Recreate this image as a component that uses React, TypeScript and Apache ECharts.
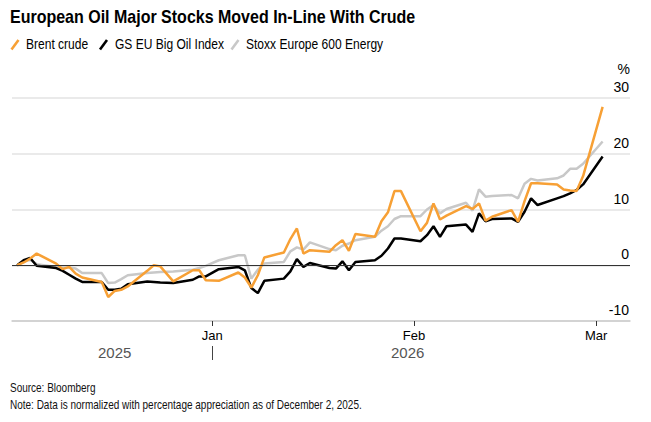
import React, { useEffect, useRef } from "react";
import * as echarts from "echarts";

const dates = [
  "2025-12-02","2025-12-03","2025-12-04","2025-12-05","2025-12-08","2025-12-09","2025-12-10","2025-12-11","2025-12-12",
  "2025-12-15","2025-12-16","2025-12-17","2025-12-18","2025-12-19","2025-12-22","2025-12-23","2025-12-24","2025-12-26",
  "2025-12-29","2025-12-30","2025-12-31",
  "2026-01-02","2026-01-05","2026-01-06","2026-01-07","2026-01-08","2026-01-09","2026-01-12","2026-01-13","2026-01-14",
  "2026-01-15","2026-01-16","2026-01-19","2026-01-20","2026-01-21","2026-01-22","2026-01-23","2026-01-26","2026-01-27",
  "2026-01-28","2026-01-29","2026-01-30",
  "2026-02-02","2026-02-03","2026-02-04","2026-02-05","2026-02-06","2026-02-09","2026-02-10","2026-02-11","2026-02-12",
  "2026-02-13","2026-02-16","2026-02-17","2026-02-18","2026-02-19","2026-02-20","2026-02-23","2026-02-24","2026-02-25",
  "2026-02-26","2026-02-27",
  "2026-03-02",
];

const brent = [
  0, 0.5, 1.2, 2.1, 0.3, -0.7, -0.3, -1.5, -2.2, -3.0, -5.7, -4.6, -4.4, -3.8, -1.0, 0.0, -0.2, -2.9, -0.9, -0.9, -2.7,
  -2.8, -1.3, -2.2, -4.0, -1.8, 1.4, 2.3, 4.7, 6.6, 2.1, 2.7, 2.4, 3.6, 4.5, 2.6, 5.6, 5.1, 7.9, 9.5, 13.3, 13.3,
  6.1, 7.6, 11.1, 8.2, 8.9, 10.6, 10.1, 11.1, 8.0, 8.7, 9.9, 7.8, 11.5, 14.7, 14.7, 14.5, 13.6, 13.4, 13.3, 16.0,
  28.4,
];

const gsBigOil = [
  0, 0.9, 1.3, -0.1, -0.5, -1.0, -1.7, -2.4, -3.0, -3.0, -4.4, -4.4, -4.2, -3.4, -2.9, -3.0, -3.1, -3.2, -2.6, -2.0, -2.0,
  -0.7, -0.3, -0.9, -4.1, -5.0, -2.8, -2.4, -1.1, 1.1, -0.3, 0.4, -0.5, -0.6, 0.7, -0.9, 0.6, 0.9, 1.7, 3.0, 4.8, 4.8,
  4.3, 5.4, 7.0, 5.1, 7.0, 7.3, 6.0, 9.3, 7.9, 8.3, 8.4, 7.8, 9.6, 12.0, 10.8, 12.0, 12.4, 12.9, 13.5, 14.5,
  19.5,
];

const stoxxEnergy = [
  0, 0.6, 1.0, 0.2, -0.3, -0.4, -0.4, -0.6, -1.4, -1.4, -3.2, -3.1, -2.5, -1.8, -1.4, -1.3, -1.2, -1.1, -0.8, -0.5, -0.1,
  0.9, 1.8, 1.8, -2.4, -0.8, 0.3, 0.6, 2.5, 3.2, 2.8, 4.1, 2.9, 2.7, 3.5, 3.9, 4.5, 5.1, 6.2, 7.0, 8.3, 8.8,
  8.8, 10.0, 10.8, 9.3, 10.1, 11.2, 9.8, 13.6, 12.3, 12.4, 12.6, 12.0, 14.6, 15.5, 15.2, 15.6, 16.1, 17.3, 17.3, 18.2,
  22.2,
];

const seriesNames = ["Brent crude", "GS EU Big Oil Index", "Stoxx Europe 600 Energy"];
const yTicks = [-10, 0, 10, 20, 30];
const monthTickDates = ["2026-01-01", "2026-02-01", "2026-03-01"];
const monthLabels = ["Jan", "Feb", "Mar"];
const yearLabels = ["2025", "2026"];

const REG = "'Liberation Sans', Arial, sans-serif";

function ts(s: string) {
  const [y, m, d] = s.split("-").map(Number);
  return Date.UTC(y, m - 1, d);
}

export default function App() {
  const ref = useRef<HTMLDivElement>(null);
  useEffect(() => {
    if (!ref.current) return;
    const chart = echarts.init(ref.current, undefined, { renderer: "svg" });
    const toPairs = (vals: number[]) => dates.map((d, i) => [ts(d), vals[i]]);
    const monthTicks = monthTickDates.map(ts);
    const colors = ["#F7A035", "#000000", "#C8C8C8"];
    const HOUR = 3600 * 1000;

    const legendIconX = [11.5, 100, 231.5];
    const legendTextX = [26, 115, 246];
    const legendGraphics: any[] = [];
    seriesNames.forEach((name, i) => {
      legendGraphics.push({
        type: "line",
        shape: { x1: legendIconX[i], y1: 49.5, x2: legendIconX[i] + 7, y2: 40 },
        style: { stroke: colors[i], lineWidth: 2.6 },
      });
      legendGraphics.push({
        type: "text",
        x: legendTextX[i],
        y: 37,
        scaleX: 0.86,
        style: { text: name, font: `14px ${REG}`, fill: "#000" },
      });
    });

    chart.setOption({
      animation: false,
      grid: { left: 12, right: 21, top: 98, bottom: 101, containLabel: false },
      xAxis: {
        type: "value",
        min: ts("2025-12-01") + 5 * HOUR,
        max: ts("2026-03-06") + 5 * HOUR,
        axisLine: { show: true, onZero: false, lineStyle: { color: "#cccccc", width: 1.5 } },
        axisTick: { show: true, customValues: monthTicks, length: 5, lineStyle: { color: "#333", width: 1 } },
        axisLabel: {
          customValues: monthTicks,
          margin: 8,
          color: "#000",
          fontFamily: REG,
          fontSize: 13,
          formatter: (v: number) => {
            const i = monthTicks.indexOf(v);
            return i >= 0 ? monthLabels[i] : "";
          },
        },
        splitLine: { show: false },
      },
      yAxis: {
        type: "value",
        position: "right",
        min: yTicks[0],
        max: yTicks[yTicks.length - 1],
        interval: 10,
        axisLine: { show: false },
        axisTick: { show: false },
        axisLabel: {
          inside: true,
          margin: 1,
          verticalAlign: "bottom",
          padding: [0, 0, 4, 0],
          color: "#000",
          fontFamily: REG,
          fontSize: 14,
        },
        splitLine: { show: true, lineStyle: { color: "#e3e3e3", width: 1.5 } },
      },
      graphic: [
        {
          type: "text",
          x: 10,
          y: 8,
          scaleX: 0.89,
          style: { text: "European Oil Major Stocks Moved In-Line With Crude", font: `bold 18px ${REG}`, fill: "#000" },
        },
        ...legendGraphics,
        { type: "text", right: 21, top: 62, style: { text: "%", font: `14px ${REG}`, fill: "#000" } },
        { type: "text", left: 98, top: 345, style: { text: yearLabels[0], font: `15px ${REG}`, fill: "#555" } },
        { type: "text", left: 391, top: 345, style: { text: yearLabels[1], font: `15px ${REG}`, fill: "#555" } },
        { type: "line", shape: { x1: 212.5, y1: 346, x2: 212.5, y2: 360 }, style: { stroke: "#444", lineWidth: 1 } },
        { type: "text", x: 10, y: 381, scaleX: 0.8, style: { text: "Source: Bloomberg", font: `12.5px ${REG}`, fill: "#111" } },
        {
          type: "text",
          x: 10,
          y: 398,
          scaleX: 0.8,
          style: { text: "Note: Data is normalized with percentage appreciation as of December 2, 2025.", font: `12.5px ${REG}`, fill: "#111" },
        },
      ],
      series: [
        {
          name: seriesNames[2],
          type: "line",
          data: toPairs(stoxxEnergy),
          showSymbol: false,
          symbol: "none",
          z: 2,
          lineStyle: { color: colors[2], width: 2.5 },
          itemStyle: { color: colors[2] },
          markLine: {
            silent: true,
            symbol: "none",
            label: { show: false },
            lineStyle: { color: "#333", width: 1, type: "solid" },
            data: [{ yAxis: 0 }],
          },
        },
        {
          name: seriesNames[1],
          type: "line",
          data: toPairs(gsBigOil),
          showSymbol: false,
          symbol: "none",
          z: 3,
          lineStyle: { color: colors[1], width: 2.5 },
          itemStyle: { color: colors[1] },
        },
        {
          name: seriesNames[0],
          type: "line",
          data: toPairs(brent),
          showSymbol: false,
          symbol: "none",
          z: 4,
          lineStyle: { color: colors[0], width: 2.5 },
          itemStyle: { color: colors[0] },
        },
      ],
    });
    return () => chart.dispose();
  }, []);
  return <div ref={ref} style={{ width: 651, height: 422, position: "absolute", left: 0, top: 0 }} />;
}
